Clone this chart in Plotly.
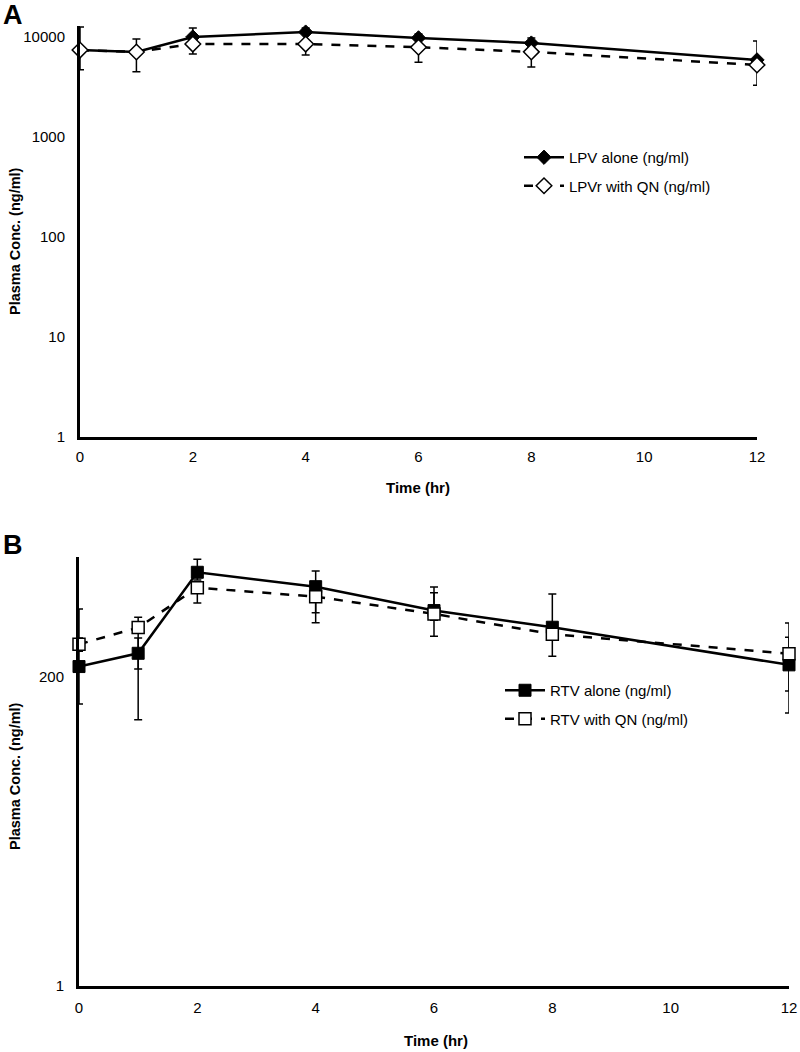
import plotly.graph_objects as go

# ---- Data ----
time_hr = [0, 1, 2, 4, 6, 8, 12]

# Panel A (LPV)
lpv_alone = [7400, 7080, 10000, 11200, 9800, 8700, 5900]
lpv_alone_err_plus = [5200, 2470, 2300, 1100, 900, 1100, 3200]
lpv_qn = [7400, 7080, 8500, 8500, 7900, 7100, 5250]
lpv_qn_err_minus = [2700, 2600, 1740, 1900, 2300, 2100, 1950]

# Panel B (RTV)
rtv_alone = [239, 300, 1203, 940, 624, 469, 246]
rtv_alone_err_plus = [402, 90, 300, 290, 222, 360, 258]
rtv_alone_err_minus = [113, 204, 150, 340, 223, 184, 89]
rtv_qn = [350, 466, 924, 792, 589, 416, 298]
rtv_qn_err_plus = [40, 90, 30, 30, 345, 40, 97]
rtv_qn_err_minus = [40, 237, 213, 285, 60, 40, 190]

a_yticks = [1, 10, 100, 1000, 10000]
b_yticks = [1, 200]
x_ticks = [0, 2, 4, 6, 8, 10, 12]

W, H = 800, 1052
ARIAL = "Liberation Sans, Arial, sans-serif"

fig = go.Figure()

fig.add_trace(go.Scatter(
    x=time_hr, y=lpv_alone, name="LPV alone (ng/ml)", mode="lines+markers",
    line=dict(color="black", width=2.5),
    marker=dict(symbol="diamond", size=11, color="black", line=dict(color="black", width=1)),
    error_y=dict(type="data", symmetric=False, array=lpv_alone_err_plus,
                 arrayminus=[0]*7, color="black", thickness=1.5, width=4),
    cliponaxis=False, xaxis="x", yaxis="y", legend="legend", legendgroup="a1"))
fig.add_trace(go.Scatter(
    x=time_hr, y=lpv_qn, name="LPVr with QN (ng/ml)", mode="lines+markers",
    line=dict(color="black", width=2.5, dash="dash"),
    marker=dict(symbol="diamond", size=12, color="white", line=dict(color="black", width=1.5)),
    error_y=dict(type="data", symmetric=False, array=[0]*7,
                 arrayminus=lpv_qn_err_minus, color="black", thickness=1.5, width=4),
    cliponaxis=False, xaxis="x", yaxis="y", legend="legend", legendgroup="a2"))

fig.add_trace(go.Scatter(
    x=time_hr, y=rtv_alone, name="RTV alone (ng/ml)", mode="lines+markers",
    line=dict(color="black", width=2.5),
    marker=dict(symbol="square", size=12, color="black", line=dict(color="black", width=1)),
    error_y=dict(type="data", symmetric=False, array=rtv_alone_err_plus,
                 arrayminus=rtv_alone_err_minus, color="black", thickness=1.5, width=4),
    cliponaxis=False, xaxis="x2", yaxis="y2", legend="legend2", legendgroup="b1"))
fig.add_trace(go.Scatter(
    x=time_hr, y=rtv_qn, name="RTV with QN (ng/ml)", mode="lines+markers",
    line=dict(color="black", width=2.5, dash="dash"),
    marker=dict(symbol="square", size=12, color="white", line=dict(color="black", width=1.5)),
    error_y=dict(type="data", symmetric=False, array=rtv_qn_err_plus,
                 arrayminus=rtv_qn_err_minus, color="black", thickness=1.5, width=4),
    cliponaxis=False, xaxis="x2", yaxis="y2", legend="legend2", legendgroup="b2"))

axis_common = dict(showline=True, linewidth=3, linecolor="black", showgrid=False,
                   zeroline=False, ticks="", automargin=False,
                   tickfont=dict(family=ARIAL, size=15, color="black"))


def px_x(p):
    return p / W


def px_y(p):
    return 1 - p / H


fig.update_layout(
    width=W, height=H, margin=dict(l=0, r=0, t=0, b=0),
    paper_bgcolor="white", plot_bgcolor="white", showlegend=True,
    xaxis=dict(domain=[px_x(80), px_x(757)], range=[0, 12], tickvals=x_ticks,
               anchor="y", ticklabelstandoff=4, **axis_common),
    yaxis=dict(domain=[px_y(437), px_y(26)], type="log", range=[0, 4.11],
               tickvals=a_yticks, ticktext=[str(v) for v in a_yticks],
               anchor="x", ticklabelstandoff=9, **axis_common),
    xaxis2=dict(domain=[px_x(79), px_x(789)], range=[0, 12], tickvals=x_ticks,
                anchor="y2", ticklabelstandoff=6, **axis_common),
    yaxis2=dict(domain=[px_y(986), px_y(557)], type="log", range=[0, 3.194],
                tickvals=b_yticks, ticktext=[str(v) for v in b_yticks],
                anchor="x2", ticklabelstandoff=9, **axis_common),
    legend=dict(x=px_x(519), y=px_y(141), xanchor="left", yanchor="top",
                font=dict(family=ARIAL, size=15, color="black"),
                bgcolor="rgba(0,0,0,0)", tracegroupgap=6, itemwidth=40),
    legend2=dict(x=px_x(500), y=px_y(674), xanchor="left", yanchor="top",
                 font=dict(family=ARIAL, size=15, color="black"),
                 bgcolor="rgba(0,0,0,0)", tracegroupgap=6, itemwidth=40),
)

annos = [
    dict(text="<b>A</b>", x=px_x(1), y=px_y(15), xanchor="left", font=dict(family=ARIAL, size=27)),
    dict(text="<b>B</b>", x=px_x(1), y=px_y(545), xanchor="left", font=dict(family=ARIAL, size=27)),
    dict(text="<b>Plasma Conc. (ng/ml)</b>", x=px_x(15), y=px_y(241), textangle=-90,
         font=dict(family=ARIAL, size=14.5)),
    dict(text="<b>Plasma Conc. (ng/ml)</b>", x=px_x(15), y=px_y(776), textangle=-90,
         font=dict(family=ARIAL, size=14.5)),
    dict(text="<b>Time (hr)</b>", x=px_x(418), y=px_y(487), font=dict(family=ARIAL, size=15)),
    dict(text="<b>Time (hr)</b>", x=px_x(436), y=px_y(1040), font=dict(family=ARIAL, size=15)),
]
for a in annos:
    a.setdefault("xanchor", "center")
    fig.add_annotation(xref="paper", yref="paper", showarrow=False,
                       yanchor="middle", font_color="black", **a)

fig.write_html(
    "out.html",
    config={"displayModeBar": False},
    post_script="document.body.style.margin='0px';document.body.style.overflow='hidden';",
)
